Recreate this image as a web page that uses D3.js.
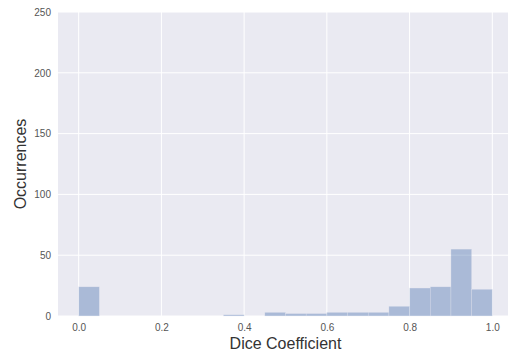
<!DOCTYPE html>
<html>
<head>
<meta charset="utf-8">
<script src="https://cdn.jsdelivr.net/npm/d3@7"></script>
<style>
  body { margin: 0; background: #fff; }
  svg { display: block; font-family: "Liberation Sans", Arial, sans-serif; }
</style>
</head>
<body>
<div class="chart"></div>
<script>
// bin left edges (width 0.05) and counts
const binStarts = [0.00, 0.05, 0.10, 0.15, 0.20, 0.25, 0.30, 0.35, 0.40, 0.45,
                   0.50, 0.55, 0.60, 0.65, 0.70, 0.75, 0.80, 0.85, 0.90, 0.95];
const counts = [24, 0, 0, 0, 0, 0, 0, 1, 0, 3,
                2, 2, 3, 3, 3, 8, 23, 24, 55, 22];
const binWidth = 0.05;
const xTicks = [0.0, 0.2, 0.4, 0.6, 0.8, 1.0];
const yTicks = [0, 50, 100, 150, 200, 250];

const width = 508;
const height = 358;
const marginTop = 12;
const marginLeft = 58;
const plotRight = 513;   // axes run a little past the picture edge
const plotBottom = 316;

const x = d3.scaleLinear()
    .domain([-0.05, 1.05])
    .range([marginLeft, plotRight]);

const y = d3.scaleLinear()
    .domain([0, 250])
    .range([plotBottom, marginTop]);

const svg = d3.select('.chart').append('svg')
    .attr('width', width)
    .attr('height', height);

svg.append('rect')
    .attr('x', marginLeft)
    .attr('y', marginTop)
    .attr('width', plotRight - marginLeft)
    .attr('height', plotBottom - marginTop)
    .attr('fill', '#EAEAF2');

// grid
svg.append('g')
    .selectAll('line')
    .data(xTicks)
    .join('line')
    .attr('x1', d => x(d)).attr('x2', d => x(d))
    .attr('y1', marginTop).attr('y2', plotBottom)
    .attr('stroke', '#fff')
    .attr('stroke-width', 1);

svg.append('g')
    .selectAll('line')
    .data(yTicks)
    .join('line')
    .attr('x1', marginLeft).attr('x2', plotRight)
    .attr('y1', d => y(d)).attr('y2', d => y(d))
    .attr('stroke', '#fff')
    .attr('stroke-width', 1);

// bars
svg.append('g')
    .selectAll('rect')
    .data(counts)
    .join('rect')
    .attr('x', (d, i) => x(binStarts[i]))
    .attr('y', d => y(d))
    .attr('width', (d, i) => x(binStarts[i] + binWidth) - x(binStarts[i]))
    .attr('height', d => y(0) - y(d))
    .attr('fill', '#4C72B0')
    .attr('fill-opacity', 0.4)
    .attr('stroke', '#EAEAF2')
    .attr('stroke-width', 0.5)
    .attr('stroke-opacity', d => d > 0 ? 0.6 : 0);

// axes (no domain lines, no tick marks)
const xAxis = svg.append('g')
    .attr('transform', `translate(0,${plotBottom})`)
    .call(d3.axisBottom(x).tickValues(xTicks).tickFormat(d3.format('.1f')).tickSize(0).tickPadding(8));

const yAxis = svg.append('g')
    .attr('transform', `translate(${marginLeft},0)`)
    .call(d3.axisLeft(y).tickValues(yTicks).tickSize(0).tickPadding(7));

[xAxis, yAxis].forEach(g => {
    g.select('.domain').remove();
    g.selectAll('text')
        .attr('fill', '#555')
        .style('font-size', '10px')
        .style('font-family', '"Liberation Sans", Arial, sans-serif');
});

svg.append('text')
    .attr('x', (marginLeft + plotRight) / 2)
    .attr('y', 349)
    .attr('text-anchor', 'middle')
    .attr('fill', '#333')
    .style('font-size', '16px')
    .text('Dice Coefficient');

svg.append('text')
    .attr('transform', `translate(26,${(marginTop + plotBottom) / 2}) rotate(-90)`)
    .attr('text-anchor', 'middle')
    .attr('fill', '#333')
    .style('font-size', '16px')
    .text('Occurrences');
</script>
</body>
</html>
